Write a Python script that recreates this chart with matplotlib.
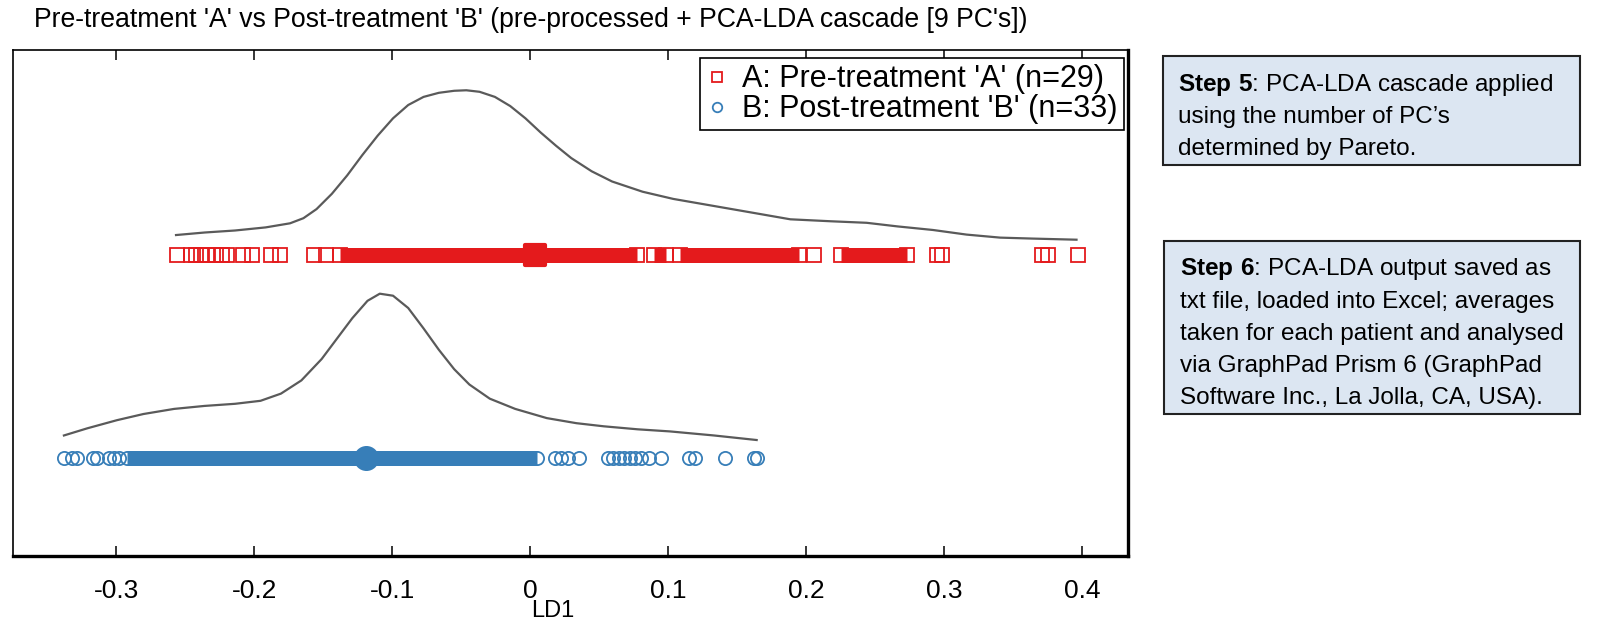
import matplotlib
matplotlib.use("Agg")
import matplotlib.pyplot as plt
from matplotlib.markers import MarkerStyle
from matplotlib.patches import Rectangle

# LD1 scores (single, separable markers)
a_scores = [-0.2556, -0.246, -0.2419, -0.2388, -0.234, -0.228, -0.223, -0.2195,
            -0.208, -0.2014, -0.188, -0.1816, -0.157, -0.148, -0.138, 0.0774,
            0.0897, 0.0984, 0.1085, 0.1946, 0.2055, 0.225, 0.273,
            0.2946, 0.298, 0.371, 0.375, 0.397]
b_scores = [-0.338, -0.3316, -0.328, -0.317, -0.3135, -0.305, -0.3017, -0.298,
            -0.292, 0.005, 0.018, 0.022, 0.027, 0.035, 0.056, 0.060, 0.064,
            0.068, 0.072, 0.076, 0.080, 0.086, 0.095, 0.115, 0.119, 0.141,
            0.162, 0.164]
# stretches where the markers overlap into a solid band
a_dense = [(-0.138, 0.0774), (0.0897, 0.0984), (0.1085, 0.1946), (0.225, 0.273)]
b_dense = [(-0.292, 0.005)]
a_mean = 0.0036
b_mean = -0.119

# density curves (x in LD1, y in axes fraction)
kde_a_x = [-0.2566, -0.2359, -0.2138, -0.1917, -0.1740, -0.1643, -0.1548, -0.1437,
           -0.1326, -0.1216, -0.1105, -0.0994, -0.0884, -0.0773, -0.0662, -0.0551,
           -0.0463, -0.0367, -0.0256, -0.0145, -0.0035, 0.0076, 0.0187, 0.0297,
           0.0445, 0.0593, 0.0814, 0.1036, 0.1331, 0.1626, 0.1884, 0.2179, 0.2437,
           0.2659, 0.2917, 0.3160, 0.3404, 0.3640, 0.3957]
kde_a_y = [0.6343, 0.6393, 0.6433, 0.6494, 0.6575, 0.6676, 0.6856, 0.7158,
           0.7522, 0.7925, 0.8308, 0.8650, 0.8913, 0.9073, 0.9154, 0.9194,
           0.9204, 0.9174, 0.9073, 0.8892, 0.8650, 0.8368, 0.8107, 0.7864,
           0.7603, 0.7401, 0.7199, 0.7057, 0.6917, 0.6777, 0.6654, 0.6615, 0.6585,
           0.6514, 0.6443, 0.6352, 0.6292, 0.6273, 0.6251]
kde_b_x = [-0.3378, -0.3208, -0.2994, -0.2802, -0.2580, -0.2359, -0.2138, -0.1954,
           -0.1806, -0.1658, -0.1511, -0.1400, -0.1289, -0.1179, -0.1090, -0.0994,
           -0.0884, -0.0773, -0.0662, -0.0551, -0.0441, -0.0293, -0.0109, 0.0120,
           0.0334, 0.0533, 0.0777, 0.1013, 0.1331, 0.1640]
kde_b_y = [0.2382, 0.2524, 0.2684, 0.2806, 0.2907, 0.2966, 0.3008, 0.3067,
           0.3209, 0.3470, 0.3893, 0.4297, 0.4700, 0.5043, 0.5184, 0.5144,
           0.4901, 0.4498, 0.4075, 0.3692, 0.3389, 0.3109, 0.2907, 0.2725,
           0.2625, 0.2563, 0.2504, 0.2462, 0.2382, 0.2292]

xticks = [-0.3, -0.2, -0.1, 0, 0.1, 0.2, 0.3, 0.4]
xtick_labels = ["-0.3", "-0.2", "-0.1", "0", "0.1", "0.2", "0.3", "0.4"]
legend_labels = ["A: Pre-treatment 'A' (n=29)", "B: Post-treatment 'B' (n=33)"]
title = "Pre-treatment 'A' vs Post-treatment 'B' (pre-processed + PCA-LDA cascade [9 PC's])"
step5 = ["$\\mathbf{Step\\ 5}$: PCA-LDA cascade applied",
         "using the number of PC\u2019s",
         "determined by Pareto."]
step6 = ["$\\mathbf{Step\\ 6}$: PCA-LDA output saved as",
         "txt file, loaded into Excel; averages",
         "taken for each patient and analysed",
         "via GraphPad Prism 6 (GraphPad",
         "Software Inc., La Jolla, CA, USA)."]

red = "#E41A1C"
blue = "#377EB8"

plt.rcParams["font.family"] = ["Liberation Sans", "DejaVu Sans"]
plt.rcParams["mathtext.fontset"] = "custom"
plt.rcParams["mathtext.rm"] = "Liberation Sans"
plt.rcParams["mathtext.bf"] = "Liberation Sans:bold"

W, H = 1599, 620
fig = plt.figure(figsize=(W / 100, H / 100), dpi=100)
ax = fig.add_axes([13.4 / W, 1 - 556 / H, (1128 - 13.4) / W, (556 - 50) / H])

row_a = 0.594
row_b = 0.1945
ms = 9.5
mew = 1.3

# curves
ax.plot(kde_a_x, kde_a_y, color="#5a5a5a", lw=1.6)
ax.plot(kde_b_x, kde_b_y, color="#5a5a5a", lw=1.6)

# dense bands
for x0, x1 in a_dense:
    ax.plot([x0, x1], [row_a, row_a], color=red, lw=ms + mew, solid_capstyle="butt")
for x0, x1 in b_dense:
    ax.plot([x0, x1], [row_b, row_b], color=blue, lw=ms + mew, solid_capstyle="butt")

# individual scores
ax.plot(a_scores, [row_a] * len(a_scores), ls="none", marker="s", ms=ms,
        mfc="none", mec=red, mew=mew, label=legend_labels[0])
ax.plot(b_scores, [row_b] * len(b_scores), ls="none", marker="o", ms=ms,
        mfc="none", mec=blue, mew=mew, label=legend_labels[1])

# means
ax.plot([a_mean], [row_a], marker=MarkerStyle("s", joinstyle="round"), ms=15,
        color=red, mec=red, mew=3)
ax.plot([b_mean], [row_b], marker="o", ms=15, color=blue, mec=blue, mew=3)

ax.set_xlim(-0.3744, 0.4330)
ax.set_ylim(0, 1)
ax.set_yticks([])
ax.set_xticks(xticks)
ax.set_xticklabels(xtick_labels, fontsize=19)
ax.tick_params(axis="x", direction="in", length=7, width=1.1, top=True,
               pad=16.5, colors="black")
for side in ["top", "left"]:
    ax.spines[side].set_linewidth(1.2)
for side in ["bottom", "right"]:
    ax.spines[side].set_linewidth(2.4)
fig.text(553 / W, 1 - 611 / H, "LD1", fontsize=17, ha="center", va="center")

h, l = ax.get_legend_handles_labels()
leg = ax.legend(h, l, loc="upper right", bbox_to_anchor=(0.9965, 0.984),
                borderaxespad=0, fontsize=22, fancybox=False, framealpha=1,
                edgecolor="black", handlelength=0.75, handletextpad=0.45,
                borderpad=0.2, labelspacing=0.0, markerscale=0.72)
leg.get_frame().set_linewidth(1.2)

fig.text(34 / W, 1 - 20 / H, title, fontsize=19.2, ha="left", va="center")

# side boxes
fill = "#DCE6F2"
for x0, y0, x1, y1 in [(1163, 56, 1580, 165), (1164, 241, 1580, 414)]:
    fig.patches.append(Rectangle((x0 / W, 1 - y1 / H), (x1 - x0) / W, (y1 - y0) / H,
                                 transform=fig.transFigure, facecolor=fill,
                                 edgecolor="#222222", lw=1.5))
for i, line in enumerate(step5):
    fig.text(1178 / W, 1 - (85 + 32.2 * i) / H, line, fontsize=17.5, va="center")
for i, line in enumerate(step6):
    fig.text(1180 / W, 1 - (269.5 + 32.2 * i) / H, line, fontsize=17.5, va="center")

fig.savefig("out.png", dpi=100)
